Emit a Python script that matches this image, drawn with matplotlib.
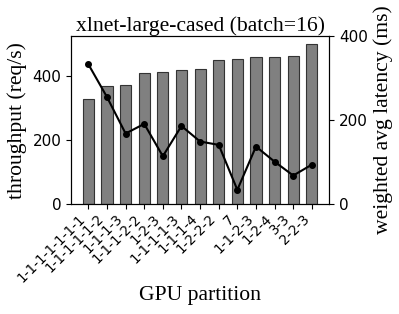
import matplotlib
matplotlib.use("Agg")
import matplotlib.pyplot as plt
import numpy as np

partitions = ["1-1-1-1-1-1-1", "1-1-1-1-1-2", "1-1-1-3", "1-1-1-2-2", "1-2-3",
              "1-1-1-1-3", "1-1-1-4", "1-2-2-2", "7", "1-1-2-3", "1-2-4", "3-3", "2-2-3"]
throughput = [329, 370, 373, 411, 413, 421, 423, 451, 455, 460, 462, 465, 501]
latency = [333, 255, 168, 191, 114, 186, 149, 141, 34, 137, 101, 68, 94]

fig = plt.figure(figsize=(3.99, 3.14), dpi=100)
ax = fig.add_axes([0.178, 0.35, 0.647, 0.535])
x = np.arange(len(partitions))
ax.bar(x, throughput, width=0.6, color="#808080", edgecolor="#333333", linewidth=0.8)
ax.set_ylim(0, 526)
ax.set_yticks([0, 200, 400])
ax.set_xticks(x)
ax.set_xticklabels(partitions, rotation=45, ha="right", fontsize=9.8)
ax.tick_params(axis="x", pad=2)
ax.tick_params(axis="y", labelsize=11)
serif = "Liberation Serif"
fs = 15.6
ax.set_ylabel("throughput (req/s)", fontsize=fs, family=serif)
ax.set_xlabel("GPU partition", fontsize=fs, family=serif)
ax.xaxis.set_label_coords(0.5, -0.49)
ax.set_title("xlnet-large-cased (batch=16)", fontsize=fs, family=serif, pad=1)

ax2 = ax.twinx()
ax2.plot(x, latency, color="black", marker="o", markersize=4, linewidth=1.5)
ax2.set_ylim(0, 400)
ax2.set_yticks([0, 200, 400])
ax2.tick_params(axis="y", labelsize=11)
ax2.set_ylabel("weighted avg latency (ms)", fontsize=fs, family=serif)

fig.savefig("out.png", dpi=100)
